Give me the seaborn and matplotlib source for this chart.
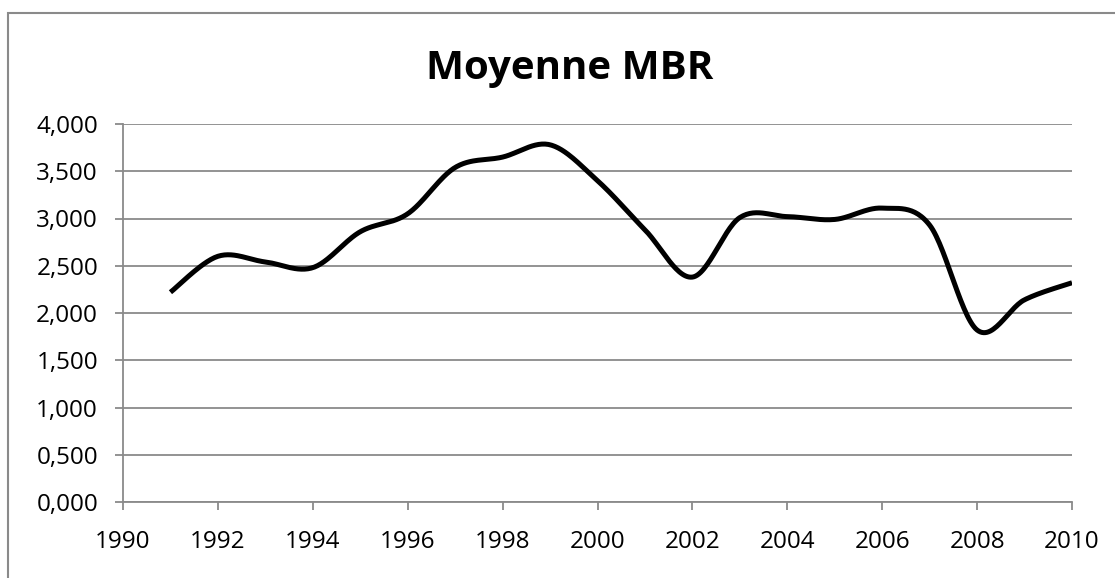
import numpy as np
import pandas as pd
import matplotlib
matplotlib.use("Agg")
import matplotlib.pyplot as plt
import matplotlib.patches as mpatches
from matplotlib.ticker import FuncFormatter
import seaborn as sns

# ── DATA ─────────────────────────────────────────────────────────────────────
years = [1991, 1992, 1993, 1994, 1995, 1996, 1997, 1998, 1999, 2000,
         2001, 2002, 2003, 2004, 2005, 2006, 2007, 2008, 2009, 2010]
mbr = [2.22, 2.60, 2.54, 2.48, 2.86, 3.05, 3.54, 3.65, 3.78, 3.40,
       2.88, 2.38, 3.01, 3.02, 2.99, 3.11, 2.93, 1.82, 2.14, 2.32]
title = "Moyenne MBR"
x_ticks = list(range(1990, 2011, 2))
y_ticks = [0.0, 0.5, 1.0, 1.5, 2.0, 2.5, 3.0, 3.5, 4.0]

GRID = "#8a8a8a"


def smooth(xs, ys, n=30):
    """Excel-like smoothed line: cubic Bezier through points (Catmull-Rom)."""
    p = np.column_stack([xs, ys]).astype(float)
    p = np.vstack([p[0], p, p[-1]])
    out = []
    t = np.linspace(0, 1, n)[:, None]
    for i in range(1, len(p) - 2):
        p0, p1, p2, p3 = p[i - 1], p[i], p[i + 1], p[i + 2]
        c1 = p1 + (p2 - p0) / 6
        c2 = p2 - (p3 - p1) / 6
        seg = ((1 - t) ** 3) * p1 + 3 * ((1 - t) ** 2) * t * c1 \
            + 3 * (1 - t) * t ** 2 * c2 + t ** 3 * p2
        out.append(seg if i == 1 else seg[1:])
    out = np.vstack(out)
    return pd.DataFrame({"year": out[:, 0], "value": out[:, 1]})


sns.set_theme(style="white")
plt.rcParams["font.family"] = ["Open Sans", "DejaVu Sans"]

fig = plt.figure(figsize=(11.15, 5.78), dpi=100)
ax = fig.add_axes([123 / 1115, 1 - 502 / 578, (1072 - 123) / 1115, (502 - 124) / 578])

curve = smooth(years, mbr)
sns.lineplot(data=curve, x="year", y="value", ax=ax, color="black",
             linewidth=3.6, sort=False, estimator=None)
ax.lines[0].set_solid_capstyle("butt")

ax.set_xlim(1990, 2010)
ax.set_ylim(0, 4)
ax.set_xticks(x_ticks)
ax.set_yticks(y_ticks)
ax.yaxis.set_major_formatter(FuncFormatter(lambda v, _: f"{v:.3f}".replace(".", ",")))
ax.set_xlabel("")
ax.set_ylabel("")
ax.grid(axis="y", color=GRID, linewidth=1.3)
ax.set_axisbelow(True)
for side in ["top", "right"]:
    ax.spines[side].set_visible(False)
for side in ["left", "bottom"]:
    ax.spines[side].set_color(GRID)
    ax.spines[side].set_linewidth(1.3)
ax.tick_params(axis="both", which="major", length=6, width=1.3, color=GRID,
               labelsize=17.5, labelcolor="black", direction="out")
ax.tick_params(axis="y", pad=12)
ax.tick_params(axis="x", pad=14)
ax.tick_params(left=True, bottom=True)

fig.text(570 / 1115, 1 - 68 / 578, title, ha="center", va="center",
         fontsize=29, fontweight="bold", color="black")

# outer chart border (only top and left are visible in the crop)
fig.patches.append(mpatches.Rectangle((7.5 / 1115, -0.1), 1.2, 1.1 - 13 / 578,
                                      transform=fig.transFigure, fill=False,
                                      edgecolor=GRID, linewidth=1.5))

plt.savefig("out.png", dpi=100)
plt.close()
